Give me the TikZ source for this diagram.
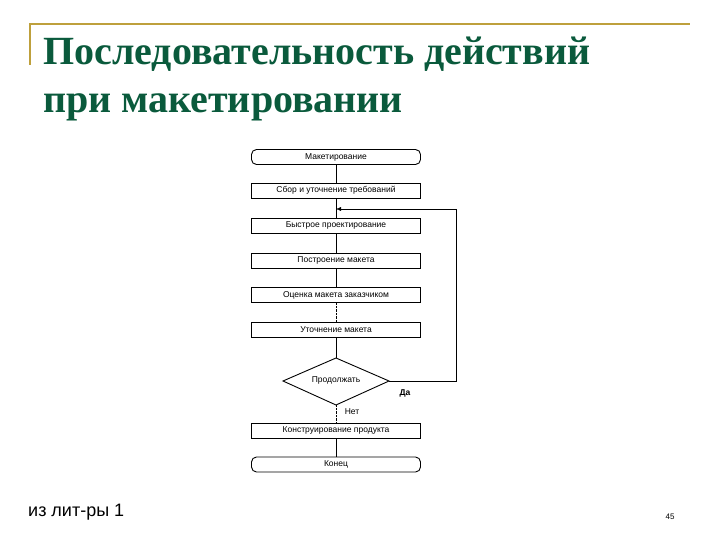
\documentclass[tikz,border=0pt]{standalone}
\usepackage{fontspec}
\usetikzlibrary{arrows.meta}
\setmainfont{Liberation Serif}
\setsansfont{Liberation Sans}
\begin{document}
\begin{tikzpicture}[x=1pt,y=-1pt,
  box/.style={draw,line width=0.9pt,minimum width=169pt,minimum height=15pt,inner sep=0pt,font=\sffamily\fontsize{8.5}{9}\selectfont},
  rbox/.style={box,rounded corners=5pt},
  lbl/.style={font=\sffamily\fontsize{8.5}{9}\selectfont,inner sep=1pt}]
\useasboundingbox (0,0) rectangle (720,540);
\definecolor{gold}{RGB}{190,160,60}
\definecolor{tgreen}{RGB}{10,90,60}
\draw[gold,line width=1.5pt] (30,65) -- (30,24) -- (690,24);
\node[anchor=base west,text=tgreen,font=\bfseries\fontsize{40}{44}\selectfont,inner sep=0pt] (t1) at (43,65) {Последовательность действий};
\node[anchor=base west,text=tgreen,font=\bfseries\fontsize{40}{44}\selectfont,inner sep=0pt] (t2) at (43,113) {при макетировании};
\node[rbox] (a) at (336,157) {Макетирование};
\node[box] (b) at (336,190.5) {Сбор и уточнение требований};
\node[box] (c) at (336,225.5) {Быстрое проектирование};
\node[box] (d) at (336,260.5) {Построение макета};
\node[box] (e) at (336,295) {Оценка макета заказчиком};
\node[box] (f) at (336,329.5) {Уточнение макета};
\draw[line width=0.9pt] (283,381) coordinate (gl) -- (336,358) coordinate (gt) -- (389,381) coordinate (gr) -- (336,405) coordinate (gb) -- cycle;
\node[lbl] (g) at (336,380) {Продолжать};
\node[box] (h) at (336,430.5) {Конструирование продукта};
\node[rbox] (k) at (336,464.5) {Конец};
\draw (a) -- (b); \draw (b) -- (c); \draw (c) -- (d); \draw (d) -- (e);
\draw[densely dotted] (e) -- (f);
\draw (f) -- (gt);
\draw[densely dotted] (gb) -- (h);
\draw (h) -- (k);
\coordinate (m) at (336,209);
\draw[-{Latex[length=5pt,width=4pt]}] (gr) -| (456,209) -- (m);
\node[lbl,font=\sffamily\bfseries\fontsize{8.5}{9}\selectfont] (da) at (405,393) {Да};
\node[lbl] (net) at (352,412) {Нет};
\node[anchor=base west,font=\sffamily\fontsize{18}{20}\selectfont,inner sep=0pt] (src) at (28,516) {из лит-ры 1};
\node[anchor=base,font=\sffamily\fontsize{8}{9}\selectfont,inner sep=0pt] (pg) at (670,519) {45};
\end{tikzpicture}
\end{document}
